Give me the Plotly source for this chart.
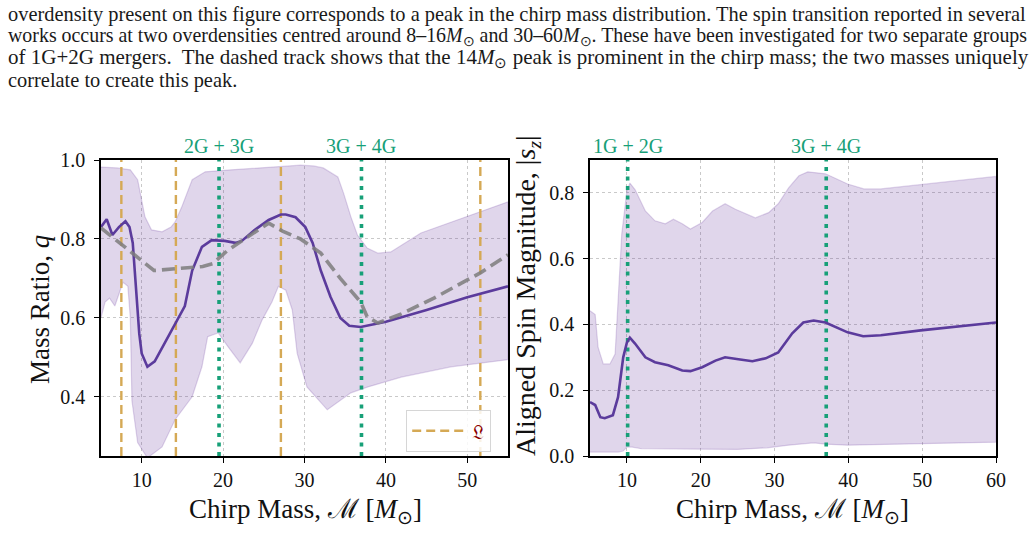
import plotly.graph_objects as go

# ---------------- data: left panel (mass ratio) ----------------
q_med_x = [5, 5.7, 6.4, 7.2, 8.0, 8.5, 8.9, 9.4, 9.7, 10.0, 10.7, 11.6, 13.2, 14.3, 15.3,
           16.2, 17.4, 18.6, 20.2, 21.5, 22.3, 23.9, 25.6, 27.1, 27.7, 28.9, 30.1, 31.0,
           32.0, 33.2, 34.4, 35.5, 36.9, 40, 45, 50, 55]
q_med = [0.83, 0.85, 0.81, 0.83, 0.845, 0.83, 0.79, 0.65, 0.56, 0.51, 0.476, 0.49, 0.55,
         0.59, 0.63, 0.72, 0.78, 0.797, 0.795, 0.79, 0.795, 0.823, 0.848, 0.862, 0.862,
         0.855, 0.83, 0.79, 0.72, 0.653, 0.60, 0.58, 0.577, 0.59, 0.62, 0.652, 0.68]

q_trend_x = [5, 7.3, 9.75, 11.5, 14.5, 17.5, 18.7, 20.5, 23, 25.6, 27.3, 29.5, 32, 34.4,
             36.9, 37.7, 39, 41.9, 45.9, 51.6, 55]
q_trend = [0.828, 0.79, 0.747, 0.72, 0.725, 0.73, 0.737, 0.77, 0.805, 0.84, 0.82, 0.80,
           0.764, 0.70, 0.64, 0.603, 0.587, 0.61, 0.65, 0.714, 0.76]

q_hi_x = [5, 7, 8.6, 9.5, 10.4, 11.2, 12.5, 13.6, 14.1, 14.9, 16.2, 17.8, 21, 25, 29.5,
          31.1, 32.3, 34.1, 34.8, 35.7, 36.5, 37.7, 39, 40.6, 42, 44.3, 55]
q_hi = [0.982, 0.98, 0.975, 0.95, 0.856, 0.823, 0.818, 0.83, 0.843, 0.88, 0.95, 0.97,
        0.975, 0.98, 0.987, 0.985, 0.98, 0.957, 0.916, 0.856, 0.81, 0.777, 0.764, 0.767,
        0.785, 0.815, 0.894]

q_lo_x = [5, 5.5, 6.05, 6.7, 7.7, 8.3, 8.6, 8.8, 9.5, 10.7, 12.5, 14.1, 16.2, 17.4, 18.1,
          19.4, 20.6, 22.1, 23.6, 24.8, 26.0, 26.8, 27.7, 28.5, 29.1, 30.3, 32.8, 35.7,
          37.8, 41.9, 48, 55]
q_lo = [0.60, 0.64, 0.65, 0.63, 0.69, 0.68, 0.60, 0.39, 0.284, 0.245, 0.273, 0.342, 0.40,
        0.476, 0.552, 0.562, 0.527, 0.486, 0.536, 0.595, 0.64, 0.68, 0.67, 0.62, 0.51,
        0.425, 0.367, 0.41, 0.425, 0.45, 0.476, 0.494]

left_gen_x = [19.5, 37.0]
left_gen_labels = ["2G + 3G", "3G + 4G"]
left_L_x = [7.5, 14.2, 27.1, 51.6]

# ---------------- data: right panel (aligned spin) ----------------
s_med_x = [5, 5.7, 6.4, 7.0, 8.1, 8.8, 9.5, 10.0, 10.4, 11.1, 12.5, 13.8, 15.6, 17.5, 18.6,
           20.2, 22.0, 23.3, 25.1, 27.0, 28.8, 30.5, 32.4, 33.9, 35.3, 36.9, 39.9, 42.0,
           44.4, 49.8, 60]
s_med = [0.164, 0.155, 0.118, 0.115, 0.124, 0.179, 0.30, 0.345, 0.36, 0.342, 0.30, 0.285,
         0.276, 0.26, 0.258, 0.27, 0.29, 0.30, 0.294, 0.288, 0.297, 0.315, 0.373, 0.406,
         0.412, 0.406, 0.376, 0.364, 0.367, 0.382, 0.406]

s_hi_x = [5, 5.7, 6.1, 6.8, 7.7, 8.4, 8.8, 9.3, 10.0, 10.4, 11.1, 12.5, 13.8, 15.2, 16.3,
          17.5, 18.6, 20.2, 21.6, 23.3, 24.7, 26.1, 27.4, 29.2, 30.5, 31.9, 33.3, 34.5,
          36.9, 39.9, 42.1, 44.4, 60]
s_hi = [0.442, 0.43, 0.33, 0.28, 0.28, 0.31, 0.47, 0.675, 0.806, 0.83, 0.81, 0.745,
        0.715, 0.706, 0.72, 0.706, 0.69, 0.71, 0.745, 0.767, 0.75, 0.736, 0.724, 0.74,
        0.767, 0.815, 0.852, 0.864, 0.858, 0.827, 0.812, 0.812, 0.85]

s_lo_x = [5, 8.8, 9.5, 10.0, 10.7, 12.0, 15, 20, 25, 29, 31.9, 35.3, 36.9, 39.9, 45, 60]
s_lo = [0.012, 0.012, 0.015, 0.027, 0.027, 0.022, 0.02, 0.02, 0.02, 0.025, 0.033, 0.04,
        0.036, 0.033, 0.035, 0.042]

right_gen_x = [10.1, 37.0]
right_gen_labels = ["1G + 2G", "3G + 4G"]

caption_lines = [
    "overdensity present on this figure corresponds to a peak in the chirp mass distribution. The spin transition reported in several",
    "works occurs at two overdensities centred around 8–16<i>M</i><sub>⊙</sub> and 30–60<i>M</i><sub>⊙</sub>. These have been investigated for two separate groups",
    "of 1G+2G mergers.  The dashed track shows that the 14<i>M</i><sub>⊙</sub> peak is prominent in the chirp mass; the two masses uniquely",
    "correlate to create this peak.",
]
caption_sizes = [20.4, 19.9, 21.0, 20.4]

# ---------------- style ----------------
W, H = 1034, 554
SERIF = "Liberation Serif, Times New Roman, serif"
PURPLE = "#5b3b9c"
BAND = "rgba(102,51,153,0.2)"
BAND_EDGE = "rgba(102,51,153,0.2)"
GREEN = "#17a078"
TAN = "#d5a955"
GRAY = "rgba(125,125,125,0.85)"

LX = (101 / W, 508 / W)
RX = (590 / W, 996 / W)
YD = ((H - 456) / H, (H - 160) / H)

fig = go.Figure()


def band(xh, yh, xl, yl, xa, ya):
    fig.add_trace(go.Scatter(
        x=list(xh) + list(reversed(xl)), y=list(yh) + list(reversed(yl)),
        fill="toself", fillcolor=BAND, mode="lines",
        line=dict(color=BAND_EDGE, width=1.2), hoverinfo="skip",
        showlegend=False, xaxis=xa, yaxis=ya))


def vline(x, rng, color, dash, width, xa, ya, name=None, show=False):
    fig.add_trace(go.Scatter(
        x=[x, x], y=list(rng), mode="lines",
        line=dict(color=color, dash=dash, width=width),
        name=name, showlegend=show, hoverinfo="skip", xaxis=xa, yaxis=ya))


QR = (0.25, 1.0)
SR = (0.0, 0.9)

# left panel
band(q_hi_x, q_hi, q_lo_x, q_lo, "x", "y")
for i, xv in enumerate(left_L_x):
    vline(xv, QR, TAN, "9px,5px", 2.4, "x", "y", name="𝔏", show=(i == 0))
for xv in left_gen_x:
    vline(xv, QR, GREEN, "4px,5.5px", 3.6, "x", "y")
fig.add_trace(go.Scatter(x=q_med_x, y=q_med, mode="lines", line=dict(color=PURPLE, width=2.6),
                         showlegend=False, xaxis="x", yaxis="y"))
fig.add_trace(go.Scatter(x=q_trend_x, y=q_trend, mode="lines",
                         line=dict(color=GRAY, width=3.6, dash="13px,6px"),
                         showlegend=False, xaxis="x", yaxis="y"))

# right panel
band(s_hi_x, s_hi, s_lo_x, s_lo, "x2", "y2")
for xv in right_gen_x:
    vline(xv, SR, GREEN, "4px,5.5px", 3.6, "x2", "y2")
fig.add_trace(go.Scatter(x=s_med_x, y=s_med, mode="lines", line=dict(color=PURPLE, width=2.6),
                         showlegend=False, xaxis="x2", yaxis="y2"))

axis_common = dict(
    showline=True, mirror=True, linecolor="black", linewidth=1.5,
    ticks="outside", ticklen=5, tickwidth=1.2, tickcolor="black",
    showgrid=True, gridcolor="#c9c9c9", griddash="dot", gridwidth=1,
    zeroline=False, tickfont=dict(family=SERIF, size=20, color="#111"),
    automargin=False,
)

fig.update_layout(
    width=W, height=H, margin=dict(l=0, r=0, t=0, b=0, autoexpand=False),
    paper_bgcolor="white", plot_bgcolor="white",
    xaxis=dict(domain=LX, range=[5, 55], tickvals=[10, 20, 30, 40, 50], anchor="y",
               ticklabelstandoff=0, **axis_common),
    yaxis=dict(domain=YD, range=list(QR), tickvals=[0.4, 0.6, 0.8, 1.0],
               ticktext=["0.4", "0.6", "0.8", "1.0"], anchor="x", ticklabelstandoff=5, **axis_common),
    xaxis2=dict(domain=RX, range=[5, 60], tickvals=[10, 20, 30, 40, 50, 60], anchor="y2",
                ticklabelstandoff=0, **axis_common),
    yaxis2=dict(domain=YD, range=list(SR), tickvals=[0, 0.2, 0.4, 0.6, 0.8],
                ticktext=["0.0", "0.2", "0.4", "0.6", "0.8"], anchor="x2", ticklabelstandoff=5,
                **axis_common),
    legend=dict(x=406 / W, y=(H - 410) / H, xanchor="left", yanchor="top",
                bgcolor="rgba(255,255,255,0.85)", bordercolor="#d6d6d6", borderwidth=1.2,
                itemwidth=55, tracegroupgap=0,
                font=dict(family="DejaVu Serif, serif", size=20, color="#8b0000")),
    showlegend=True,
)

ann = []
for xv, lab in zip(left_gen_x, left_gen_labels):
    ann.append(dict(x=xv, y=(H - 146) / H, xref="x", yref="paper", text=lab, showarrow=False,
                    font=dict(family=SERIF, size=20, color=GREEN), xanchor="center", yanchor="middle"))
for xv, lab in zip(right_gen_x, right_gen_labels):
    ann.append(dict(x=xv, y=(H - 146) / H, xref="x2", yref="paper", text=lab, showarrow=False,
                    font=dict(family=SERIF, size=20, color=GREEN), xanchor="center", yanchor="middle"))

title_font = dict(family=SERIF, size=27, color="#111")
ann.append(dict(x=40 / W, y=(H - 310) / H, xref="paper", yref="paper", text="Mass Ratio, <i>q</i>",
                textangle=-90, showarrow=False, font=title_font, xanchor="center", yanchor="middle"))
ann.append(dict(x=527 / W, y=(H - 296) / H, xref="paper", yref="paper",
                text="Aligned Spin Magnitude, |<i>s</i><sub><i>z</i></sub>|",
                textangle=-90, showarrow=False, font=dict(family=SERIF, size=28, color="#111"),
                xanchor="center", yanchor="middle"))
for cx in (305, 792):
    ann.append(dict(x=cx / W, y=(H - 492) / H, xref="paper", yref="paper",
                    text="Chirp Mass, ℳ [<i>M</i><sub>⊙</sub>]", showarrow=False,
                    font=title_font, xanchor="center", yanchor="top"))

for i, line in enumerate(caption_lines):
    ann.append(dict(x=6 / W, y=(H - (14 + 22 * i)) / H, xref="paper", yref="paper", text=line,
                    showarrow=False, font=dict(family=SERIF, size=caption_sizes[i], color="#1a1a1a"),
                    xanchor="left", yanchor="middle"))

fig.update_layout(annotations=ann)
fig.write_html("out.html")
